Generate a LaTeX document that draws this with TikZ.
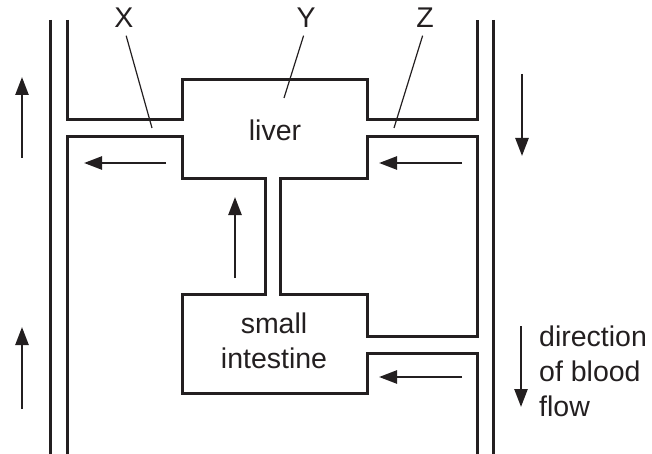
\documentclass[tikz,border=0pt]{standalone}
\usepackage{fontspec}
\setmainfont{Liberation Sans}
\usetikzlibrary{arrows.meta}
\definecolor{ink}{HTML}{231F20}
\begin{document}
\begin{tikzpicture}[x=1pt,y=-1pt,
  wall/.style={draw=ink,line width=3pt,line join=miter},
  flow/.style={draw=ink,line width=2.5pt,-{Triangle[length=18pt,width=13pt]}},
  leader/.style={draw=ink,line width=1.2pt,shorten <=8pt},
  lbl/.style={text=ink,font=\fontsize{28.5}{35}\selectfont,inner sep=0pt}]
\useasboundingbox (0,0) rectangle (652,454);
% vessel walls
\draw[wall] (50,20) -- (50,454);
\draw[wall] (493,20) -- (493,454);
\draw[wall] (67,20) -- (67,120) -- (182,120) -- (182,80) -- (367,80) -- (367,120) -- (477,120) -- (477,20);
\draw[wall] (67,454) -- (67,137) -- (182,137) -- (182,179) -- (265,179) -- (265,294) -- (182,294) -- (182,393) -- (367,393) -- (367,353) -- (477,353) -- (477,454);
\draw[wall] (280,179) -- (280,294) -- (367,294) -- (367,336) -- (477,336) -- (477,137) -- (367,137) -- (367,179) -- cycle;
% texts
\node[lbl] (X) at (124,18) {X};
\node[lbl] (Y) at (306,18) {Y};
\node[lbl] (Z) at (425,18) {Z};
\node[lbl] (liver) at (275,130) {liver};
\node[lbl,align=center] (si) at (274,341) {small\\intestine};
\node[lbl,align=left,anchor=west] (dir) at (539,371) {direction\\of blood\\flow};
% leader lines
\coordinate (xe) at (152,128);
\coordinate (ye) at (284,98);
\coordinate (ze) at (394,128);
\draw[leader] (X.south) -- (xe);
\draw[leader] (Y.south) -- (ye);
\draw[leader] (Z.south) -- (ze);
% flow arrows
\coordinate (a1s) at (22,158); \coordinate (a1e) at (22,77);
\coordinate (a2s) at (22,409); \coordinate (a2e) at (22,327);
\coordinate (a3s) at (166,163); \coordinate (a3e) at (84,163);
\coordinate (a4s) at (235,278); \coordinate (a4e) at (235,197);
\coordinate (a5s) at (522,74); \coordinate (a5e) at (522,156);
\coordinate (a6s) at (462,163); \coordinate (a6e) at (379,163);
\coordinate (a7s) at (462,377); \coordinate (a7e) at (379,377);
\coordinate (a8s) at (521,326); \coordinate (a8e) at (521,407);
\foreach \i in {1,...,8} {\draw[flow] (a\i s) -- (a\i e);}
\end{tikzpicture}
\end{document}
